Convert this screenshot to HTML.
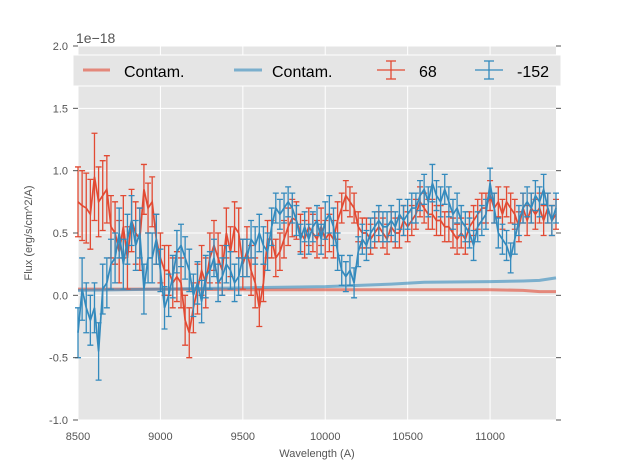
<!DOCTYPE html>
<html><head><meta charset="utf-8"><style>
body{margin:0;background:#fff;}
svg text{font-family:"Liberation Sans",sans-serif;}
</style></head><body>
<svg id="chart" width="617" height="467" xmlns="http://www.w3.org/2000/svg">
<rect x="78" y="46" width="478" height="374" fill="#e5e5e5"/>
<g id="grid"></g>
<g id="series"></g>
<g id="axes"></g>
<text x="76" y="43" font-size="14" fill="#555">1e−18</text>
<text x="317" y="457" font-size="11" fill="#555" text-anchor="middle">Wavelength (A)</text>
<text transform="translate(32,233) rotate(-90)" font-size="11" fill="#555" text-anchor="middle">Flux (erg/s/cm^2/A)</text>
<g>
<rect x="73" y="55" width="488" height="31" fill="#e5e5e5" stroke="#fff" stroke-width="1"/>
<g><line x1="83" y1="70" x2="110" y2="70" stroke="#E24A33" stroke-opacity="0.6" stroke-width="3"/><text x="124" y="77" font-size="16">Contam.</text></g>
<g><line x1="234" y1="70" x2="262" y2="70" stroke="#348ABD" stroke-opacity="0.6" stroke-width="3"/><text x="272" y="77" font-size="16">Contam.</text></g>
<g stroke="#E24A33" stroke-width="1.3"><line x1="377" y1="70" x2="405" y2="70"/><line x1="391" y1="61" x2="391" y2="79"/><line x1="386" y1="61" x2="396" y2="61"/><line x1="386" y1="79" x2="396" y2="79"/><text x="419" y="77" font-size="16" stroke="none" fill="#000">68</text></g>
<g stroke="#348ABD" stroke-width="1.3"><line x1="475" y1="70" x2="503" y2="70"/><line x1="489" y1="61" x2="489" y2="79"/><line x1="484" y1="61" x2="494" y2="61"/><line x1="484" y1="79" x2="494" y2="79"/><text x="517" y="77" font-size="16" stroke="none" fill="#000">-152</text></g>
</g>
</svg>
<script>
const xTicks=[8500,9000,9500,10000,10500,11000];
const yTicks=[-1.0,-0.5,0.0,0.5,1.0,1.5,2.0];
const redFlux=[0.75,0.72,0.7,0.65,0.95,0.75,0.8,0.85,0.55,0.5,0.35,0.55,0.3,0.6,0.5,0.45,0.85,0.7,0.75,0.45,0.3,0.2,0.2,0.1,0.15,0.1,-0.2,-0.3,-0.1,0.05,0.2,0.1,0.3,0.4,0.3,0.2,0.5,0.35,0.55,0.5,0.25,0.35,0.2,0.1,-0.1,0.1,0.45,0.45,0.3,0.35,0.45,0.55,0.62,0.6,0.5,0.45,0.55,0.5,0.45,0.55,0.45,0.5,0.45,0.6,0.7,0.8,0.75,0.7,0.55,0.5,0.5,0.45,0.5,0.55,0.5,0.45,0.55,0.5,0.5,0.6,0.55,0.6,0.65,0.75,0.7,0.65,0.65,0.6,0.6,0.55,0.55,0.5,0.45,0.5,0.45,0.55,0.6,0.65,0.7,0.7,0.8,0.7,0.75,0.65,0.75,0.7,0.65,0.55,0.7,0.6,0.7,0.65,0.7,0.6,0.7,0.6,0.65];
const redErr=[0.28,0.28,0.28,0.28,0.35,0.28,0.28,0.27,0.25,0.25,0.25,0.25,0.25,0.25,0.25,0.25,0.2,0.2,0.2,0.2,0.2,0.2,0.2,0.2,0.2,0.2,0.2,0.2,0.2,0.2,0.2,0.2,0.2,0.2,0.2,0.2,0.2,0.2,0.2,0.2,0.2,0.2,0.2,0.2,0.15,0.15,0.15,0.15,0.15,0.15,0.15,0.15,0.15,0.15,0.15,0.15,0.15,0.15,0.15,0.15,0.15,0.15,0.15,0.15,0.12,0.12,0.12,0.12,0.12,0.12,0.12,0.12,0.12,0.12,0.12,0.12,0.12,0.12,0.12,0.12,0.12,0.12,0.12,0.12,0.12,0.12,0.12,0.12,0.12,0.12,0.12,0.12,0.12,0.12,0.12,0.12,0.12,0.12,0.12,0.12,0.12,0.12,0.12,0.12,0.12,0.12,0.12,0.12,0.12,0.12,0.12,0.12,0.12,0.12,0.12,0.12,0.12];
const blueFlux=[-0.3,0.05,-0.1,-0.2,-0.1,-0.45,0.05,0.1,0.25,0.3,0.5,0.25,0.45,0.6,0.4,0.5,0.05,0.3,0.3,0.45,0.2,-0.1,0,0.15,0.35,0.4,0.3,0.2,0,0.1,-0.05,0.15,0.2,0.3,0.1,0.15,0.25,0.2,0.1,0.15,0.3,0.3,0.45,0.4,0.5,0.4,0.35,0.55,0.7,0.65,0.7,0.75,0.7,0.6,0.45,0.55,0.45,0.55,0.6,0.45,0.6,0.65,0.55,0.35,0.2,0.15,0.2,0.1,0.35,0.45,0.4,0.5,0.55,0.6,0.55,0.55,0.6,0.55,0.65,0.6,0.65,0.7,0.7,0.8,0.85,0.75,0.9,0.8,0.75,0.85,0.75,0.65,0.7,0.6,0.55,0.5,0.4,0.55,0.6,0.65,0.9,0.7,0.5,0.45,0.4,0.3,0.45,0.6,0.7,0.75,0.7,0.8,0.75,0.85,0.7,0.6,0.7];
const blueErr=[0.2,0.25,0.2,0.2,0.2,0.23,0.2,0.2,0.2,0.2,0.2,0.2,0.2,0.2,0.2,0.2,0.2,0.2,0.2,0.2,0.17,0.17,0.17,0.17,0.17,0.17,0.17,0.17,0.17,0.17,0.17,0.17,0.15,0.15,0.15,0.15,0.15,0.15,0.15,0.15,0.15,0.15,0.15,0.15,0.15,0.15,0.15,0.15,0.12,0.12,0.12,0.12,0.12,0.12,0.12,0.12,0.12,0.12,0.12,0.12,0.15,0.15,0.15,0.15,0.12,0.12,0.12,0.12,0.12,0.12,0.12,0.12,0.12,0.12,0.12,0.12,0.12,0.12,0.12,0.12,0.12,0.12,0.12,0.12,0.12,0.12,0.15,0.12,0.12,0.12,0.12,0.12,0.12,0.12,0.12,0.12,0.12,0.12,0.12,0.12,0.12,0.12,0.12,0.12,0.12,0.12,0.12,0.12,0.12,0.12,0.12,0.12,0.12,0.12,0.12,0.12,0.12];
const contamWave=[8500,9000,9500,10000,10400,10600,11000,11200,11300,11400];
const contamRed=[0.05,0.05,0.045,0.045,0.045,0.045,0.045,0.04,0.03,0.03];
const contamBlue=[0.04,0.05,0.06,0.07,0.09,0.105,0.11,0.115,0.12,0.14];
const wMin=8500,wMax=11400;
const X=w=>78+(w-wMin)/(wMax-wMin)*478;
const Y=v=>420-(v+1)/3*374;
const NS='http://www.w3.org/2000/svg';
function mk(tag,attrs,parent){const e=document.createElementNS(NS,tag);for(const k in attrs)e.setAttribute(k,attrs[k]);parent.appendChild(e);return e;}
const grid=document.getElementById('grid'),axes=document.getElementById('axes'),ser=document.getElementById('series');
xTicks.forEach(t=>{
 const l=mk('line',{x1:X(t),x2:X(t),y1:46,y2:420,stroke:'#fff','stroke-width':1},grid);
 
 
 const tx=mk('text',{x:X(t),y:440,'font-size':11,fill:'#555','text-anchor':'middle'},axes);
 tx.textContent=t;
 
 
});
yTicks.forEach(t=>{
 const l=mk('line',{x1:78,x2:556,y1:Y(t),y2:Y(t),stroke:'#fff','stroke-width':1},grid);
 
 
 mk('line',{x1:73,x2:78,y1:Y(t),y2:Y(t),stroke:'#555'},axes);
 mk('line',{x1:556,x2:561,y1:Y(t),y2:Y(t),stroke:'#555'},axes);
 const tx=mk('text',{x:68,y:Y(t)+4,'font-size':11,fill:'#555','text-anchor':'end'},axes);
 tx.textContent=t.toFixed(1);
 
 
});
function contam(vals,color,name){
 const p=mk('polyline',{points:contamWave.map((w,i)=>X(w)+','+Y(vals[i])).join(' '),fill:'none',stroke:color,'stroke-opacity':0.6,'stroke-width':3},ser);
 
 
}
function errSeries(vals,errs,color,name){
 const n=vals.length,g=mk('g',{stroke:color,'stroke-width':1.3,fill:'none'},ser);
 
 
 const wv=i=>wMin+i*(wMax-wMin)/(n-1);
 vals.forEach((v,i)=>{
  const x=X(wv(i)),y1=Y(v-errs[i]),y2=Y(v+errs[i]);
  const b=mk('path',{d:`M${x},${y1}V${y2}M${x-3},${y1}H${x+3}M${x-3},${y2}H${x+3}`},g);
  
  
 });
 const p=mk('polyline',{points:vals.map((v,i)=>X(wv(i))+','+Y(v)).join(' '),'stroke-width':1.7},g);
 
 
}
contam(contamRed,'#E24A33','contam-red-line');
contam(contamBlue,'#348ABD','contam-blue-line');
errSeries(redFlux,redErr,'#E24A33','series-68');
errSeries(blueFlux,blueErr,'#348ABD','series-152');
</script>
</body></html>
